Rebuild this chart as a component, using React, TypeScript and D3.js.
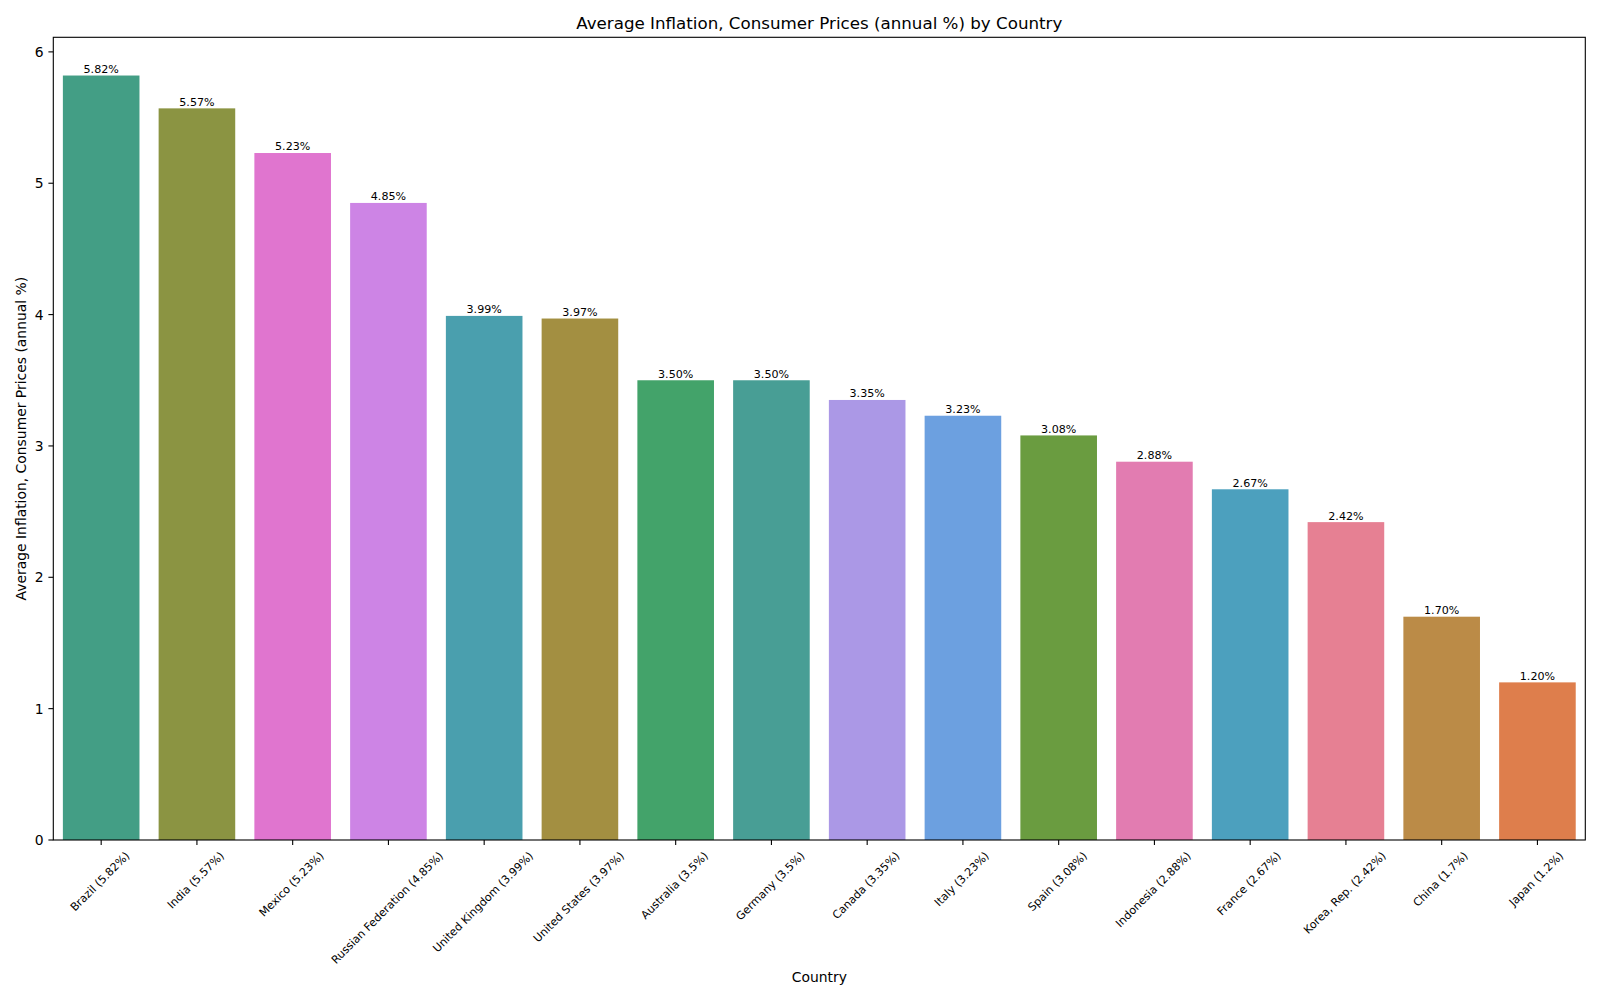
import React, { useEffect, useRef } from 'react';
import * as d3 from 'd3';

const countries = [
  'Brazil', 'India', 'Mexico', 'Russian Federation', 'United Kingdom', 'United States',
  'Australia', 'Germany', 'Canada', 'Italy', 'Spain', 'Indonesia', 'France',
  'Korea, Rep.', 'China', 'Japan',
];
const values = [5.82, 5.57, 5.23, 4.85, 3.99, 3.97, 3.5, 3.5, 3.35, 3.23, 3.08, 2.88, 2.67, 2.42, 1.7, 1.2];
const colors = [
  '#439e85', '#8b9442', '#e075cf', '#cd84e5', '#4a9fae', '#a38f41', '#43a36a', '#489e95',
  '#ab98e6', '#6ca0e0', '#6a9c40', '#e27cb1', '#4ca0be', '#e68093', '#bb8b47', '#de7e4c',
];
const yTicks = [0, 1, 2, 3, 4, 5, 6];

const W = 1600;
const H = 1000;
const PLOT = { left: 53.3, right: 1585.3, top: 37.3, bottom: 840 };
const FONT = 'DejaVu Sans, sans-serif';

export default function App() {
  const ref = useRef<SVGSVGElement>(null);

  useEffect(() => {
    const svg = d3.select(ref.current);
    svg.selectAll('*').remove();

    const x = d3.scaleBand<string>()
      .domain(countries)
      .range([PLOT.left, PLOT.right])
      .paddingInner(0.2)
      .paddingOuter(0.1);
    const yMax = d3.max(values)! * 1.05;
    const y = d3.scaleLinear().domain([0, yMax]).range([PLOT.bottom, PLOT.top]);

    svg.append('rect').attr('x', 0).attr('y', 0).attr('width', W).attr('height', H).attr('fill', 'white');

    const data = countries.map((c, i) => ({ c, v: values[i], col: colors[i] }));

    // bars
    svg.append('g').selectAll('rect').data(data).join('rect')
      .attr('x', d => x(d.c)!)
      .attr('y', d => y(d.v))
      .attr('width', x.bandwidth())
      .attr('height', d => y(0) - y(d.v))
      .attr('fill', d => d.col);

    // value labels
    svg.append('g').selectAll('text').data(data).join('text')
      .attr('x', d => x(d.c)! + x.bandwidth() / 2)
      .attr('y', d => y(d.v) - 2.6)
      .attr('text-anchor', 'middle')
      .attr('font-family', FONT)
      .attr('font-size', 11.1)
      .attr('fill', 'black')
      .text(d => d.v.toFixed(2) + '%');

    // frame
    svg.append('rect')
      .attr('x', PLOT.left).attr('y', PLOT.top)
      .attr('width', PLOT.right - PLOT.left).attr('height', PLOT.bottom - PLOT.top)
      .attr('fill', 'none').attr('stroke', 'black').attr('stroke-width', 1.1);

    // y ticks
    const yg = svg.append('g');
    yTicks.forEach(t => {
      const yy = y(t);
      yg.append('line').attr('x1', PLOT.left - 4.9).attr('x2', PLOT.left)
        .attr('y1', yy).attr('y2', yy).attr('stroke', 'black').attr('stroke-width', 1.1);
      yg.append('text').attr('x', PLOT.left - 4.9 - 4.9).attr('y', yy)
        .attr('text-anchor', 'end').attr('dominant-baseline', 'central')
        .attr('font-family', FONT).attr('font-size', 13.9).attr('fill', 'black')
        .text(String(t));
    });

    // x ticks
    const xg = svg.append('g');
    const fs = 11.1;
    data.forEach(d => {
      const cx = x(d.c)! + x.bandwidth() / 2;
      xg.append('line').attr('x1', cx).attr('x2', cx)
        .attr('y1', PLOT.bottom).attr('y2', PLOT.bottom + 4.9)
        .attr('stroke', 'black').attr('stroke-width', 1.1);
      const t = xg.append('text')
        .attr('text-anchor', 'middle').attr('dominant-baseline', 'central')
        .attr('font-family', FONT).attr('font-size', fs).attr('fill', 'black')
        .text(`${d.c} (${d.v}%)`);
      const w = (t.node() as SVGTextElement).getComputedTextLength();
      const cy = 851 + (w + 0.75 * fs) / (2 * Math.SQRT2);
      t.attr('transform', `translate(${cx - 1},${cy}) rotate(-45)`);
    });

    // title
    svg.append('text')
      .attr('x', (PLOT.left + PLOT.right) / 2).attr('y', 28.5)
      .attr('text-anchor', 'middle').attr('font-family', FONT).attr('font-size', 16.7)
      .attr('fill', 'black')
      .text('Average Inflation, Consumer Prices (annual %) by Country');

    // x label
    svg.append('text')
      .attr('x', (PLOT.left + PLOT.right) / 2).attr('y', 982)
      .attr('text-anchor', 'middle').attr('font-family', FONT).attr('font-size', 13.9)
      .attr('fill', 'black')
      .text('Country');

    // y label
    svg.append('text')
      .attr('transform', `translate(21,${(PLOT.top + PLOT.bottom) / 2}) rotate(-90)`)
      .attr('text-anchor', 'middle').attr('dominant-baseline', 'central')
      .attr('font-family', FONT).attr('font-size', 13.9).attr('fill', 'black')
      .text('Average Inflation, Consumer Prices (annual %)');
  }, []);

  return (
    <svg
      ref={ref}
      width={W}
      height={H}
      style={{ position: 'absolute', left: 0, top: 0, display: 'block' }}
    />
  );
}
